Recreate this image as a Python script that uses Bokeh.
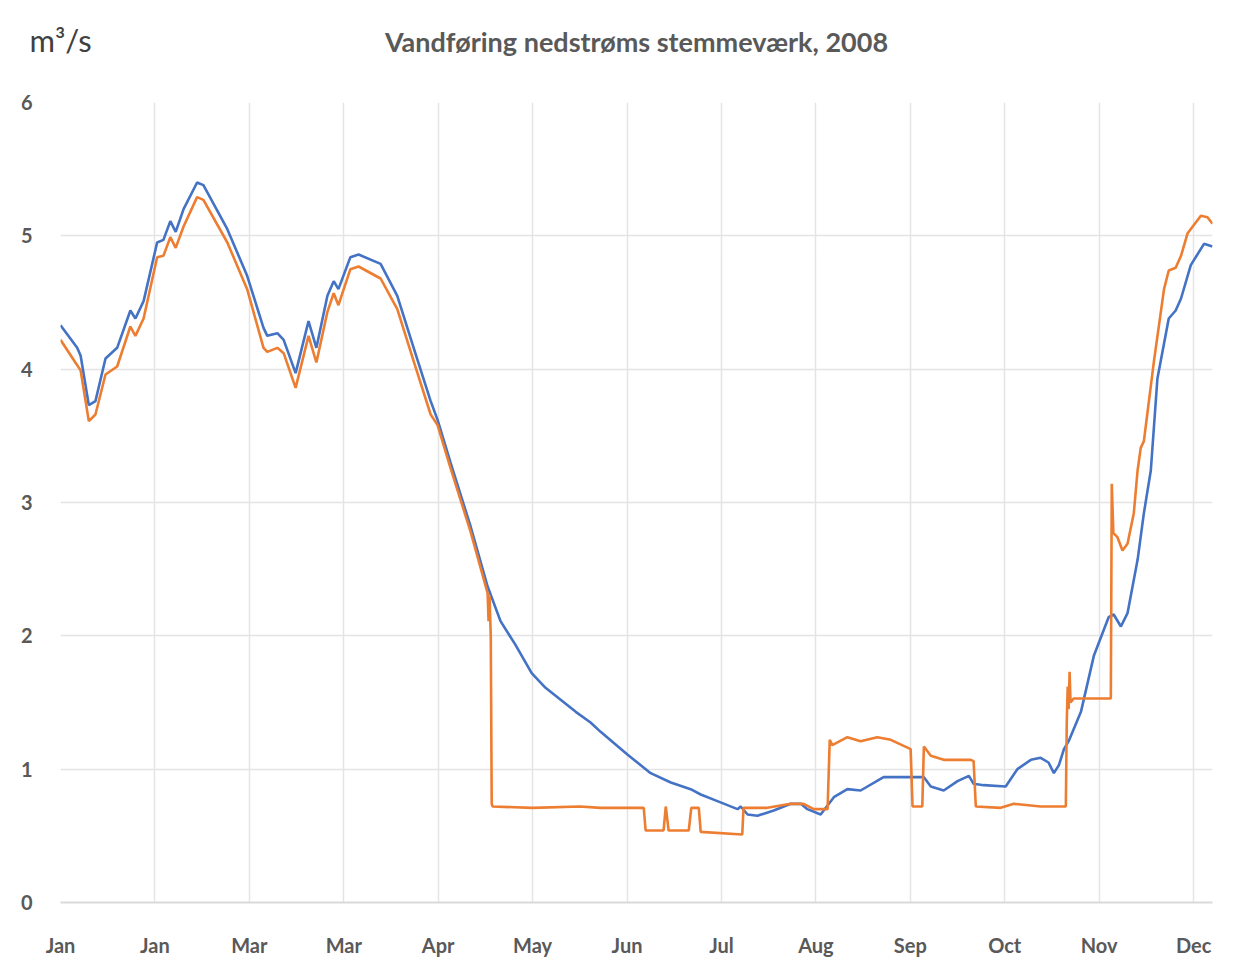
from bokeh.plotting import figure
from bokeh.models import Range1d, FixedTicker, LinearAxis
from bokeh.embed import file_html
from bokeh.resources import INLINE

# x in day-of-year (2008), y in m3/s
tick_days = [0, 30, 60, 90, 120, 150, 180, 210, 240, 270, 300, 330, 360]
tick_labels = ["Jan", "Jan", "Mar", "Mar", "Apr", "May", "Jun", "Jul", "Aug", "Sep", "Oct", "Nov", "Dec"]
y_ticks = [0, 1, 2, 3, 4, 5, 6]

blue_day = [0, 5.3, 6.4, 9.0, 11.1, 14.3, 18.0, 22.2, 23.8, 26.4, 30.7, 32.7, 34.9, 36.6, 39.1,
            43.4, 45.4, 53.0, 59.3, 64.5, 65.7, 68.9, 70.9, 74.7, 78.8, 81.3, 84.8, 86.8, 88.3,
            92.1, 94.7, 101.7, 107.0, 112.2, 117.6, 119.8, 123.9, 130.3, 135.7, 139.8, 144.6,
            149.7, 154.1, 158.9, 163.7, 168.4, 171.6, 180.1, 187.5, 193.9, 200.2, 203.4, 208.7,
            215.1, 216.1, 218.3, 221.4, 226.6, 232.0, 235.2, 237.3, 241.5, 245.7, 250.0, 254.2,
            261.5, 270.1, 274.3, 276.5, 280.6, 285.0, 288.6, 290.1, 293.3, 300.3, 304.0, 308.3,
            311.4, 313.9, 315.6, 317.2, 318.8, 320.3, 324.2, 328.3, 333.0, 334.6, 336.9, 339.0,
            342.2, 344.2, 346.4, 348.5, 352.1, 354.3, 356.0, 359.1, 363.3, 366.0]
blue_val = [4.33, 4.16, 4.10, 3.73, 3.76, 4.08, 4.16, 4.44, 4.38, 4.51, 4.95, 4.97, 5.11, 5.03, 5.20,
            5.40, 5.38, 5.05, 4.70, 4.31, 4.25, 4.27, 4.22, 3.97, 4.36, 4.16, 4.55, 4.66, 4.60,
            4.84, 4.86, 4.79, 4.55, 4.16, 3.76, 3.62, 3.30, 2.82, 2.37, 2.11, 1.93,
            1.72, 1.61, 1.52, 1.43, 1.35, 1.28, 1.11, 0.97, 0.90, 0.85, 0.81, 0.76,
            0.70, 0.72, 0.66, 0.65, 0.69, 0.74, 0.74, 0.70, 0.66, 0.79, 0.85, 0.84,
            0.94, 0.94, 0.94, 0.87, 0.84, 0.91, 0.95, 0.89, 0.88, 0.87, 1.00, 1.07,
            1.085, 1.05, 0.97, 1.03, 1.15, 1.21, 1.43, 1.85, 2.14, 2.16, 2.07, 2.17,
            2.57, 2.92, 3.24, 3.93, 4.38, 4.44, 4.53, 4.78, 4.94, 4.92]

orange_day = [0, 5.3, 6.4, 9.0, 11.1, 14.3, 18.0, 22.2, 23.8, 26.4, 30.7, 32.7, 34.9, 36.6, 39.1,
              43.4, 45.4, 53.0, 59.3, 64.5, 65.7, 68.9, 70.9, 74.7, 78.8, 81.3, 84.8, 86.8, 88.3,
              92.1, 94.7, 101.7, 107.0, 112.2, 117.6, 119.8, 123.9, 130.3, 135.7, 136.0, 136.3,
              136.7, 137.0, 137.3, 150.0, 165.0, 171.6, 185.3, 185.9, 191.6, 192.3, 193.2, 199.6,
              200.4, 202.8, 203.4, 216.6, 217.0, 224.6, 232.0, 236.1, 239.3, 243.7, 244.4, 245.2,
              250.0, 254.2, 259.5, 263.8, 270.1, 270.7, 273.8, 274.3, 276.5, 280.6, 289.2, 290.1,
              290.8, 298.7, 302.9, 311.4, 319.4, 319.7, 320.0, 320.3, 320.6, 320.9, 321.9, 333.7,
              334.0, 334.5, 335.8, 337.4, 339.0, 341.0, 342.2, 343.2, 344.2, 347.4, 350.6, 352.1,
              354.3, 356.0, 358.1, 362.3, 364.4, 366.0]
orange_val = [4.22, 4.03, 3.99, 3.61, 3.66, 3.96, 4.02, 4.32, 4.25, 4.38, 4.84, 4.85, 4.99, 4.91, 5.07,
              5.29, 5.27, 4.95, 4.60, 4.16, 4.13, 4.16, 4.12, 3.86, 4.25, 4.05, 4.43, 4.57, 4.48,
              4.75, 4.77, 4.68, 4.45, 4.06, 3.66, 3.58, 3.26, 2.78, 2.32, 2.11, 2.30,
              2.00, 0.74, 0.72, 0.71, 0.72, 0.71, 0.71, 0.54, 0.54, 0.72, 0.54, 0.54,
              0.71, 0.71, 0.53, 0.51, 0.71, 0.71, 0.74, 0.74, 0.70, 0.70, 1.22, 1.18,
              1.24, 1.21, 1.24, 1.22, 1.15, 0.72, 0.72, 1.17, 1.10, 1.07, 1.07, 1.06,
              0.72, 0.71, 0.74, 0.72, 0.72, 1.35, 1.62, 1.45, 1.73, 1.50, 1.53, 1.53,
              3.14, 2.77, 2.74, 2.64, 2.69, 2.92, 3.24, 3.41, 3.46, 4.06, 4.60, 4.74,
              4.76, 4.85, 5.02, 5.15, 5.14, 5.09]

title_text = "Vandføring nedstrøms stemmeværk, 2008"
unit_text = "m³/s"

FONT = "Lato"
GREY = "#595959"

p = figure(width=1226, height=959, output_backend="svg", toolbar_location=None,
           x_range=Range1d(0, 366), y_range=Range1d(0, 6),
           min_border_left=60, min_border_right=14, min_border_top=102,
           min_border_bottom=50)
p.outline_line_color = None
p.background_fill_color = "white"
p.border_fill_color = "white"

p.xaxis.ticker = FixedTicker(ticks=tick_days)
p.xaxis.major_label_overrides = {d: l for d, l in zip(tick_days, tick_labels)}
p.yaxis.ticker = FixedTicker(ticks=y_ticks)
for ax in (p.xaxis, p.yaxis):
    ax.major_tick_line_color = None
    ax.minor_tick_line_color = None
    ax.major_label_text_font = FONT
    ax.major_label_text_font_style = "bold"
    ax.major_label_text_color = GREY
    ax.major_label_text_font_size = "20px"
p.xaxis.axis_line_color = "#d9d9d9"
p.xaxis.axis_line_width = 2
p.xaxis.major_label_standoff = 24
p.yaxis.axis_line_color = None
p.yaxis.major_label_standoff = 22

# header axis: unit as tick label at the left edge, title as axis label
head = LinearAxis(ticker=FixedTicker(ticks=[0]),
                  major_label_overrides={0: unit_text},
                  axis_label=title_text)
head.axis_line_color = None
head.major_tick_line_color = None
head.minor_tick_line_color = None
head.major_label_text_font = FONT
head.major_label_text_font_size = "31px"
head.major_label_text_color = "#404040"
head.major_label_standoff = 38
head.axis_label_text_font = FONT
head.axis_label_text_font_style = "bold"
head.axis_label_text_font_size = "27px"
head.axis_label_text_color = GREY
head.axis_label_standoff = -40
p.add_layout(head, "above")

p.xgrid.ticker = FixedTicker(ticks=tick_days)
p.grid.grid_line_color = "#e4e4e4"
p.grid.grid_line_width = 1.5

p.line(blue_day, blue_val, line_color="#4472C4", line_width=2.6)
p.line(orange_day, orange_val, line_color="#ED7D31", line_width=2.6)

open("out.html", "w").write(file_html(p, INLINE))
